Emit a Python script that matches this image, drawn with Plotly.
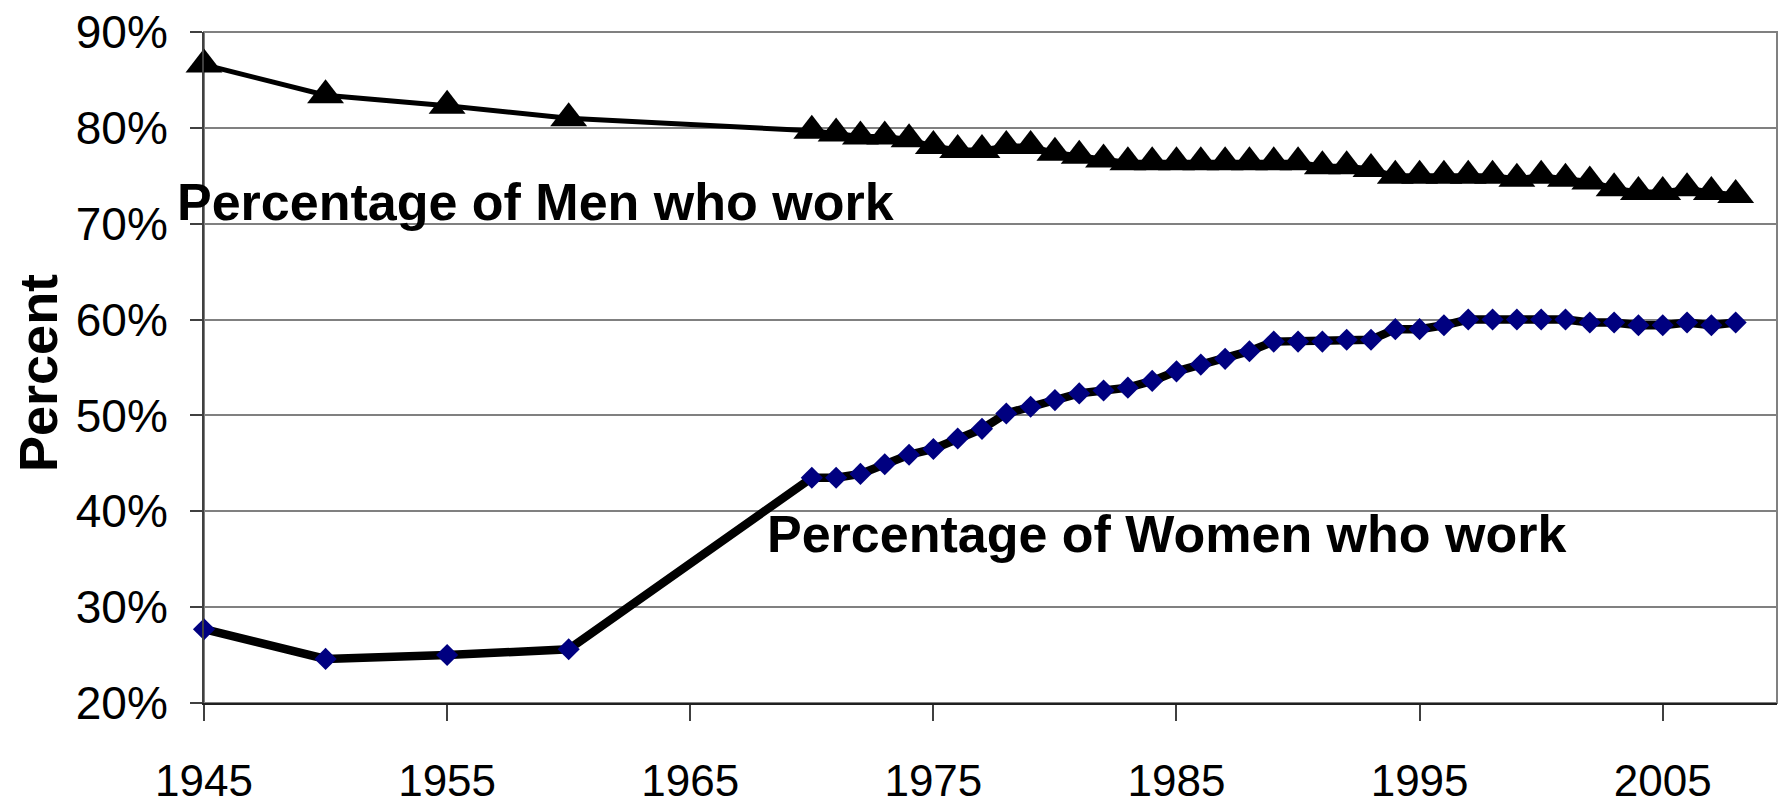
import plotly.graph_objects as go

years = [1945, 1950, 1955, 1960] + list(range(1970, 2009))
men = [86.6, 83.4, 82.3, 81.0,
       79.7, 79.4, 79.1, 79.1, 78.8, 78.1, 77.7, 77.7, 78.1, 78.1,
       77.4, 77.1, 76.7, 76.4, 76.4, 76.4, 76.4, 76.4, 76.4, 76.4,
       76.4, 76.0, 76.0, 75.7, 75.0, 75.0, 75.0, 75.0, 75.0, 74.7,
       75.0, 74.7, 74.4, 73.7, 73.3, 73.3, 73.7, 73.3, 73.0]
women = [27.7, 24.6, 25.0, 25.6,
         43.5, 43.5, 43.9, 44.9, 45.9, 46.5, 47.6, 48.6, 50.2, 50.9,
         51.6, 52.3, 52.6, 52.9, 53.6, 54.6, 55.3, 55.9, 56.7, 57.7,
         57.7, 57.7, 57.9, 57.9, 59.0, 59.0, 59.4, 60.0, 60.0, 60.0,
         60.0, 60.0, 59.7, 59.7, 59.4, 59.4, 59.7, 59.4, 59.7]
y_ticks = [20, 30, 40, 50, 60, 70, 80, 90]
x_ticks = [1945, 1955, 1965, 1975, 1985, 1995, 2005]

FONT = "Liberation Sans, Arial, sans-serif"
# the page body has an 8px default margin; figure is sized to fit inside it
W, H = 1770, 794
L, R, T, B = 196, 1, 24, 99
PW = W - L - R
PH = H - T - B

fig = go.Figure()
fig.add_trace(go.Scatter(
    x=years, y=women, mode="lines+markers",
    line=dict(color="black", width=8.5),
    marker=dict(symbol="diamond", size=17, color="#000080"),
    showlegend=False, cliponaxis=False))
fig.add_trace(go.Scatter(
    x=years, y=men, mode="lines+markers",
    line=dict(color="black", width=5),
    marker=dict(symbol="triangle-up", size=32, color="black"),
    showlegend=False, cliponaxis=False))

fig.add_annotation(x=1958.65, y=72.3, xref="x", yref="y", showarrow=False,
                   xanchor="center", yanchor="middle",
                   text="<b>Percentage of Men who work</b>",
                   font=dict(family=FONT, size=52, color="black"))
fig.add_annotation(x=1984.6, y=37.6, xref="x", yref="y", showarrow=False,
                   xanchor="center", yanchor="middle",
                   text="<b>Percentage of Women who work</b>",
                   font=dict(family=FONT, size=52, color="black"))
fig.add_annotation(x=(30 - L) / PW, y=(695 - 365) / PH, xref="paper", yref="paper",
                   showarrow=False, textangle=-90, xanchor="center", yanchor="middle",
                   text="<b>Percent</b>",
                   font=dict(family=FONT, size=54, color="black"))

fig.add_shape(type="rect", xref="paper", yref="paper", x0=0, y0=0, x1=1, y1=1,
              line=dict(color="#808080", width=2), layer="below")

fig.update_layout(
    width=W, height=H,
    margin=dict(l=L, r=R, t=T, b=B),
    paper_bgcolor="white", plot_bgcolor="white",
    xaxis=dict(range=[1945, 2009.7], tickvals=x_ticks, ticktext=[str(v) for v in x_ticks],
               showgrid=False, zeroline=False, automargin=False,
               showline=True, linecolor="#202020", linewidth=2,
               ticks="outside", ticklen=16, tickwidth=1.5, tickcolor="#404040",
               ticklabelstandoff=22, ticklabeloverflow="allow",
               tickfont=dict(family=FONT, size=44, color="black")),
    yaxis=dict(range=[20, 90], tickvals=y_ticks, ticktext=[f"{v}%" for v in y_ticks],
               showgrid=True, gridcolor="#808080", gridwidth=1.5, zeroline=False,
               automargin=False,
               showline=True, linecolor="#404040", linewidth=2,
               ticks="outside", ticklen=12, tickwidth=1.5, tickcolor="#404040",
               ticklabelstandoff=13, ticklabeloverflow="allow",
               tickfont=dict(family=FONT, size=46, color="black")),
)

fig.write_html("out.html")
